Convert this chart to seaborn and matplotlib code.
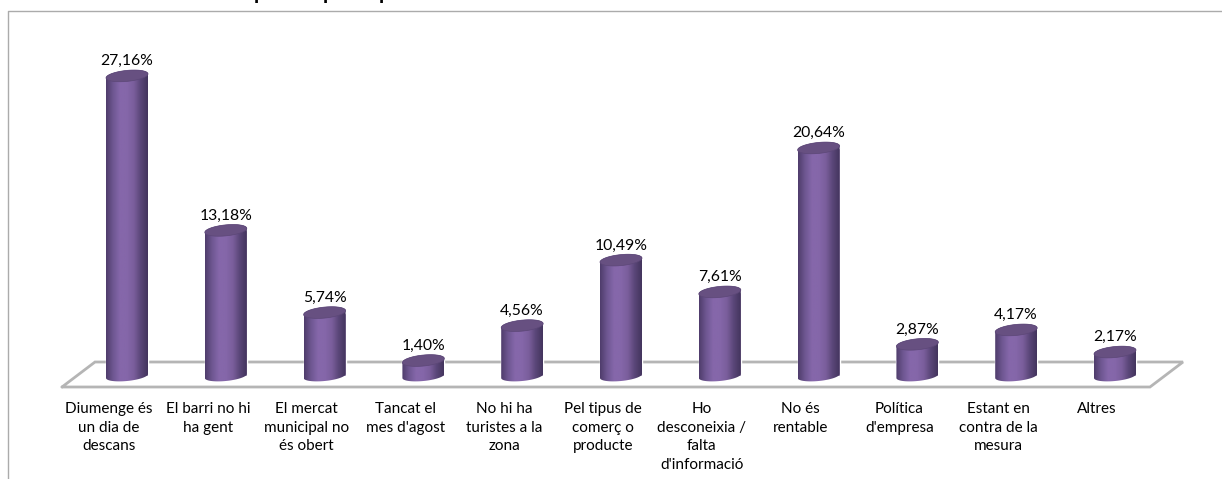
import numpy as np
import pandas as pd
import matplotlib
matplotlib.use("Agg")
import matplotlib.pyplot as plt
import seaborn as sns
from matplotlib.lines import Line2D
from matplotlib.patches import Polygon
from matplotlib.colors import LinearSegmentedColormap
from matplotlib.transforms import Affine2D, ScaledTranslation

categories = [
    "Diumenge és\nun dia de\ndescans",
    "El barri no hi\nha gent",
    "El mercat\nmunicipal no\nés obert",
    "Tancat el\nmes d'agost",
    "No hi ha\nturistes a la\nzona",
    "Pel tipus de\ncomerç o\nproducte",
    "Ho\ndesconeixia /\nfalta\nd'informació",
    "No és\nrentable",
    "Política\nd'empresa",
    "Estant en\ncontra de la\nmesura",
    "Altres",
]
values = [27.16, 13.18, 5.74, 1.40, 4.56, 10.49, 7.61, 20.64, 2.87, 4.17, 2.17]
value_labels = ["27,16%", "13,18%", "5,74%", "1,40%", "4,56%", "10,49%",
                "7,61%", "20,64%", "2,87%", "4,17%", "2,17%"]

W, H = 1222, 479
sns.set_theme(style="white")
plt.rcParams["font.family"] = ["Lato", "DejaVu Sans"]

df = pd.DataFrame({"motiu": categories, "pct": values})

fig = plt.figure(figsize=(W / 100, H / 100), dpi=100, facecolor="white")

# axes placed in pixels: baseline at y=376, first/last slot centres at 127 and 1115
step = (1115 - 127) / 10
left = 127 - step / 2
right = 1115 + step / 2
base_px = 376
top_px = 12
px_per_pct = 11.05
ax = fig.add_axes([left / W, 1 - base_px / H, (right - left) / W, (base_px - top_px) / H])
ax.patch.set_alpha(0)

sns.barplot(data=df, x="motiu", y="pct", color="#8064A2", width=0.425, ax=ax)
ax.set_xlim(-0.5, 10.5)
ax.set_ylim(0, (base_px - top_px) / px_per_pct)
ax.set_xlabel("")
ax.set_ylabel("")
ax.set_yticks([])
sns.despine(ax=ax, left=True, bottom=True)
ax.tick_params(axis="x", length=0, pad=19, labelsize=11, colors="black")
# the labels sit about 18 px left of their bars in the reference
shift = ScaledTranslation(-18 / 100, 0, fig.dpi_scale_trans)
for lab in ax.get_xticklabels():
    lab.set_linespacing(1.4)
    lab.set_verticalalignment("top")
    lab.set_transform(lab.get_transform() + shift)

ax.bar_label(ax.containers[0], labels=value_labels, padding=5.5, fontsize=11.3, color="black")

cyl = LinearSegmentedColormap.from_list(
    "cyl", ["#4f3d6c", "#6f5792", "#8567aa", "#8567aa", "#7a5e9c", "#5a4678", "#44355e"])
grad = np.linspace(0, 1, 64).reshape(1, -1)

# cylinder look on top of each seaborn bar
b_top = 5.5 / px_per_pct
b_low = 5.0 / px_per_pct
tilt = 2.0 / px_per_pct
t = np.linspace(0, 2 * np.pi, 80)
for bar in ax.patches:
    x0, w, h = bar.get_x(), bar.get_width(), bar.get_height()
    xc, a = x0 + w / 2, w / 2
    low = np.linspace(np.pi, 2 * np.pi, 40)
    high = np.linspace(0, np.pi, 40)
    outline = np.r_[
        np.c_[xc + a * np.cos(low), b_low * np.sin(low) + tilt * np.cos(low)],
        np.c_[xc + a * np.cos(high), h + b_top * np.sin(high) + tilt * np.cos(high)],
    ]
    clip = Polygon(outline, closed=True, transform=ax.transData, fc="none", ec="none", clip_on=False)
    ax.add_patch(clip)
    im = ax.imshow(grad, cmap=cyl, extent=(x0, x0 + w, -2, h + 2), aspect="auto", zorder=3)
    im.set_clip_box(fig.bbox)
    im.set_clip_path(clip)
    cap = np.c_[xc + a * np.cos(t), h + b_top * np.sin(t) + tilt * np.cos(t)]
    ax.add_patch(Polygon(cap, closed=True, fc="#675081", ec="#5c4777", lw=0.5, zorder=4))
ax.set_xlim(-0.5, 10.5)
ax.set_ylim(0, (base_px - top_px) / px_per_pct)

# floor and chart frame are drawn in pixel coordinates
to_px = Affine2D().scale(1, -1).translate(0, H)
floor = [(62, 387), (1150, 387), (1183, 362), (95, 362), (62, 387)]
fig.add_artist(Line2D([p[0] for p in floor], [p[1] for p in floor], transform=to_px,
                      color="#b5b5b5", lw=2.0, zorder=-1, solid_joinstyle="miter"))
fig.add_artist(Line2D([8, 8, W], [H, 10.5, 10.5], transform=to_px, color="#ababab", lw=1.0, zorder=-1))

# the title is cut off by the crop, only these descenders remain
for x_p in [260, 329, 385]:
    fig.text(x_p / W, 1 - (-1) / H, "p", fontsize=15, fontweight="bold", color="black",
             ha="center", va="baseline")

fig.savefig("out.png", dpi=100)
